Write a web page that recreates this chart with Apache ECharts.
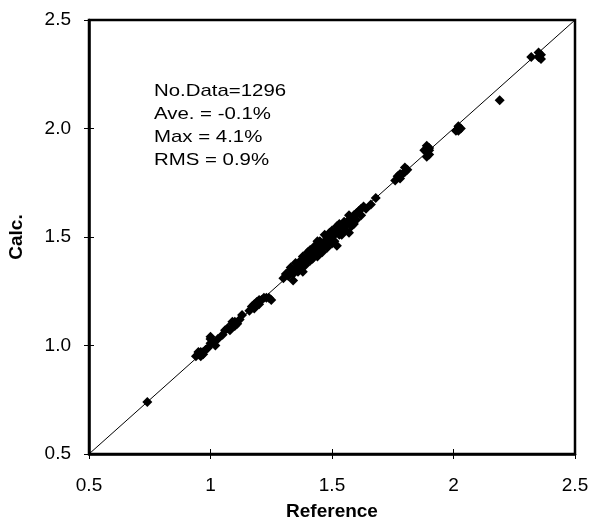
<!DOCTYPE html>
<html>
<head>
<meta charset="utf-8">
<script src="https://cdn.jsdelivr.net/npm/echarts@6/dist/echarts.min.js"></script>
<style>html,body{margin:0;padding:0;background:#fff}#c{width:592px;height:519px}</style>
</head>
<body>
<div id="c"></div>
<script>
// Reference values (x) and calculated values (y)
var refX = [0.74,
  0.94,0.95,0.96,0.97,0.98,0.96,0.99,1.00,1.00,1.01,1.03,1.02,1.00,0.95,0.97,
  1.05,1.07,1.08,1.09,1.10,1.11,1.12,1.10,1.13,1.06,1.09,
  1.16,1.17,1.18,1.19,1.20,1.21,1.22,1.20,1.23,1.24,1.18,1.25,
  1.30,1.31,1.32,1.33,1.34,1.35,1.35,1.36,1.37,1.37,1.38,1.38,1.39,1.40,1.40,1.41,1.41,1.42,1.42,1.43,1.43,1.44,1.44,1.45,1.45,1.46,1.46,1.47,1.47,1.48,1.48,1.49,1.49,1.50,1.50,1.51,1.51,1.52,1.52,1.53,1.53,1.54,1.55,1.55,1.56,1.57,1.57,1.58,1.59,1.60,1.61,1.62,1.63,1.64,1.66,1.57,1.52,1.44,
  1.33,1.36,1.39,1.42,1.45,1.48,1.50,1.53,1.55,1.58,1.60,1.34,1.38,1.41,1.47,1.54,1.59,1.62,
  1.68,
  1.76,1.77,1.78,1.79,1.80,1.81,1.80,1.78,
  1.89,1.89,1.90,1.90,1.89,1.90,1.88,
  2.01,2.02,2.03,2.02,2.02,
  2.19,
  2.32,2.35,2.36,2.36,2.35];
var calcY = [0.74,
  0.95,0.96,0.95,0.97,0.98,0.97,0.99,1.01,1.03,1.02,1.03,1.00,1.04,0.97,0.96,
  1.05,1.08,1.07,1.10,1.11,1.10,1.12,1.09,1.14,1.07,1.11,
  1.16,1.18,1.19,1.20,1.21,1.21,1.22,1.19,1.22,1.22,1.17,1.21,
  1.31,1.33,1.32,1.36,1.33,1.35,1.38,1.34,1.36,1.39,1.37,1.41,1.38,1.40,1.43,1.39,1.42,1.44,1.41,1.42,1.46,1.44,1.41,1.45,1.48,1.46,1.43,1.48,1.51,1.47,1.50,1.52,1.48,1.50,1.53,1.51,1.48,1.53,1.55,1.52,1.56,1.54,1.57,1.53,1.56,1.58,1.60,1.57,1.60,1.61,1.62,1.63,1.64,1.63,1.65,1.52,1.46,1.48,
  1.35,1.37,1.37,1.40,1.43,1.45,1.47,1.51,1.54,1.55,1.58,1.30,1.34,1.44,1.46,1.51,1.56,1.60,
  1.68,
  1.76,1.78,1.77,1.79,1.80,1.81,1.82,1.79,
  1.87,1.89,1.91,1.88,1.92,1.90,1.90,
  1.99,2.00,2.00,1.99,2.01,
  2.13,
  2.33,2.33,2.34,2.32,2.35];
var xTicks = ['0.5','1','1.5','2','2.5'];
var yTicks = ['0.5','1.0','1.5','2.0','2.5'];
var statsLines = ['No.Data=1296','Ave. = -0.1%','Max = 4.1%','RMS = 0.9%'];

var pts = refX.map(function(x,i){return [x, calcY[i]];});
var FONT = '"Liberation Sans", Arial, sans-serif';
function fmtX(v){ var i = Math.round((v-0.5)/0.5); return xTicks[i] !== undefined ? xTicks[i] : ''; }
function fmtY(v){ var i = Math.round((v-0.5)/0.5); return yTicks[i] !== undefined ? yTicks[i] : ''; }

var chart = echarts.init(document.getElementById('c'), null, {renderer:'canvas'});
chart.setOption({
  animation:false,
  backgroundColor:'#fff',
  grid:{left:89, top:20, width:486, height:434, show:true, borderColor:'#000', borderWidth:2.5, backgroundColor:'transparent', containLabel:false, outerBoundsMode:'none'},
  xAxis:[{
    type:'value', min:0.5, max:2.5, interval:0.5, position:'bottom',
    name:'Reference', nameLocation:'middle', nameGap:48,
    nameTextStyle:{fontFamily:FONT, fontSize:19, fontWeight:'bold', color:'#000'},
    axisLine:{show:true, onZero:false, lineStyle:{color:'#000', width:2.5}},
    axisTick:{show:true, length:5, lineStyle:{color:'#000', width:1}},
    axisLabel:{formatter:fmtX, margin:22, fontFamily:FONT, fontSize:19, color:'#000'},
    splitLine:{show:false}
  },{
    type:'value', min:0.5, max:2.5, interval:0.5, position:'bottom',
    axisLine:{show:false}, axisTick:{show:true, inside:true, length:5, lineStyle:{color:'#000', width:1}},
    axisLabel:{show:false}, splitLine:{show:false}
  }],
  yAxis:[{
    type:'value', min:0.5, max:2.5, interval:0.5, position:'left',
    name:'Calc.', nameLocation:'middle', nameGap:63, nameRotate:90,
    nameTextStyle:{fontFamily:FONT, fontSize:19, fontWeight:'bold', color:'#000'},
    axisLine:{show:true, onZero:false, lineStyle:{color:'#000', width:2.5}},
    axisTick:{show:true, length:5, lineStyle:{color:'#000', width:1}},
    axisLabel:{formatter:fmtY, margin:18, fontFamily:FONT, fontSize:19, color:'#000'},
    splitLine:{show:false}
  },{
    type:'value', min:0.5, max:2.5, interval:0.5, position:'left',
    axisLine:{show:false}, axisTick:{show:true, inside:true, length:5, lineStyle:{color:'#000', width:1}},
    axisLabel:{show:false}, splitLine:{show:false}
  }],
  graphic:[{
    type:'text', x:154, y:80, scaleX:1.2,
    style:{text:statsLines.join('\n'), fontFamily:FONT, fontSize:17, lineHeight:23, fill:'#000'}
  }],
  series:[{
    type:'line', data:[[0.5,0.5],[2.5,2.5]], symbol:'none', silent:true,
    lineStyle:{color:'#000', width:1}, z:1
  },{
    type:'scatter', data:pts, symbol:'diamond', symbolSize:10,
    itemStyle:{color:'#000', opacity:1}, z:2
  }]
});
</script>
</body>
</html>
